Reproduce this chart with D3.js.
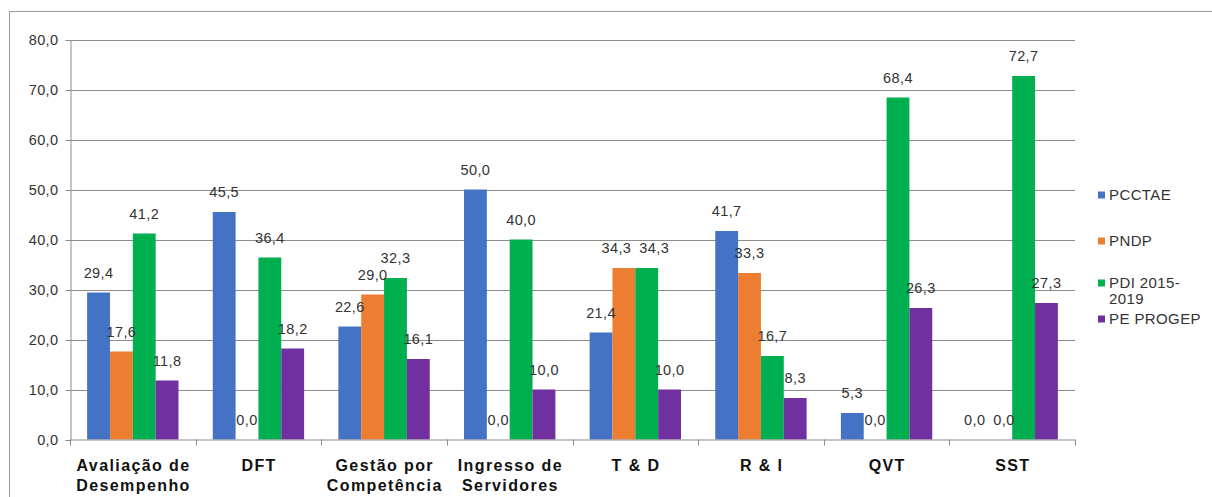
<!DOCTYPE html>
<html>
<head>
<meta charset="utf-8">
<script src="https://cdn.jsdelivr.net/npm/d3@7"></script>
<style>
  body { margin: 0; background: #fff; }
  text { font-family: "Liberation Sans", Arial, sans-serif; }
</style>
</head>
<body>
<svg id="chart" width="1212" height="497"></svg>
<script>
const categories = [
    ["Avaliação de", "Desempenho"],
    ["DFT"],
    ["Gestão por", "Competência"],
    ["Ingresso de", "Servidores"],
    ["T & D"],
    ["R & I"],
    ["QVT"],
    ["SST"]
];
const seriesNames = ["PCCTAE", "PNDP", "PDI 2015-2019", "PE PROGEP"];
const legendLines = [["PCCTAE"], ["PNDP"], ["PDI 2015-", "2019"], ["PE PROGEP"]];
const colors = ["#4472C4", "#ED7D31", "#00B050", "#7030A0"];
const pcctae = [29.4, 45.5, 22.6, 50.0, 21.4, 41.7, 5.3, 0.0];
const pndp = [17.6, 0.0, 29.0, 0.0, 34.3, 33.3, 0.0, 0.0];
const pdi = [41.2, 36.4, 32.3, 40.0, 34.3, 16.7, 68.4, 72.7];
const progep = [11.8, 18.2, 16.1, 10.0, 10.0, 8.3, 26.3, 27.3];
const yTicks = [0, 10, 20, 30, 40, 50, 60, 70, 80];

const series = [pcctae, pndp, pdi, progep];

const svg = d3.select("#chart"),
    plotLeft = 70, plotRight = 1075, plotTop = 39.5, plotBottom = 439.5;

// outer frame
svg.append("rect")
    .attr("x", 9.5).attr("y", 11.5)
    .attr("width", 1220).attr("height", 520)
    .attr("fill", "none").attr("stroke", "#9a9a9a");

const x = d3.scaleBand()
    .domain(d3.range(categories.length))
    .range([plotLeft, plotRight])
    .padding(0);

// Excel gap width ~150%
const bw = x.bandwidth() / 5.5;
const xs = d3.scaleBand()
    .domain(d3.range(series.length))
    .range([bw * 0.75, x.bandwidth() - bw * 0.75]);

const y = d3.scaleLinear().domain([0, 80]).range([plotBottom, plotTop]);

const fmt = v => v.toFixed(1).replace(".", ",");

// gridlines
svg.append("g").selectAll("line")
    .data(yTicks.filter(d => d > 0))
    .enter().append("line")
    .attr("x1", plotLeft).attr("x2", plotRight)
    .attr("y1", d => Math.round(y(d)) + 0.5).attr("y2", d => Math.round(y(d)) + 0.5)
    .attr("stroke", "#8c8c8c").attr("stroke-width", 1);

// y axis
const yAxis = svg.append("g")
    .attr("transform", `translate(${plotLeft + 0.5},0.5)`)
    .call(d3.axisLeft(y).tickValues(yTicks).tickSize(5).tickFormat(fmt));
yAxis.select(".domain").attr("stroke", "#8c8c8c");
yAxis.selectAll(".tick line").attr("stroke", "#8c8c8c");
yAxis.selectAll(".tick text")
    .attr("font-size", 14.5)
    .attr("letter-spacing", "0.4px")
    .attr("fill", "#333")
    .attr("x", -12)
    .attr("font-family", "Liberation Sans, Arial, sans-serif");

// bars
const groups = svg.append("g").selectAll("g")
    .data(categories)
    .enter().append("g")
    .attr("transform", (d, i) => `translate(${x(i)},0)`);

series.forEach((vals, s) => {
    groups.append("rect")
        .attr("x", (d, i) => xs(s))
        .attr("y", (d, i) => y(vals[i]))
        .attr("width", xs.bandwidth())
        .attr("height", (d, i) => y(0) - y(vals[i]))
        .attr("fill", colors[s]);
});

// x axis line + ticks at category boundaries
svg.append("line")
    .attr("x1", plotLeft).attr("x2", plotRight)
    .attr("y1", plotBottom + 0.5).attr("y2", plotBottom + 0.5)
    .attr("stroke", "#8c8c8c");
svg.append("g").selectAll("line")
    .data(d3.range(categories.length + 1))
    .enter().append("line")
    .attr("x1", i => Math.round(plotLeft + i * x.step()) + 0.5)
    .attr("x2", i => Math.round(plotLeft + i * x.step()) + 0.5)
    .attr("y1", plotBottom).attr("y2", plotBottom + 6)
    .attr("stroke", "#8c8c8c");

// data labels
groups.each(function(d, i) {
    const g = d3.select(this);
    const labels = series.map((vals, s) => g.append("text")
        .attr("x", xs(s) + xs.bandwidth() / 2)
        .attr("y", y(vals[i]) - 15)
        .attr("text-anchor", "middle")
        .attr("font-size", 14.5)
        .attr("letter-spacing", "0.4px")
        .attr("fill", "#333")
        .text(fmt(vals[i])));
    // push apart neighbours that sit on the same line
    for (let s = 0; s < labels.length - 1; s++) {
        const a = labels[s], b = labels[s + 1];
        const ya = +a.attr("y"), yb = +b.attr("y");
        if (Math.abs(ya - yb) > 13) continue;
        const wa = a.node().getComputedTextLength(),
            wb = b.node().getComputedTextLength();
        const need = (wa + wb) / 2 + 8,
            have = +b.attr("x") - +a.attr("x");
        if (have < need) {
            const k = (need - have) / 2;
            a.attr("x", +a.attr("x") - k);
            b.attr("x", +b.attr("x") + k);
        }
    }
});

// category labels
groups.append("text")
    .attr("text-anchor", "middle")
    .attr("font-size", 16)
    .attr("font-weight", "bold")
    .attr("letter-spacing", "1.4px")
    .attr("fill", "#111")
    .selectAll("tspan")
    .data(d => d)
    .enter().append("tspan")
    .attr("x", x.bandwidth() / 2 + 0.7)
    .attr("y", (d, j) => 471 + j * 20)
    .text(d => d);

// legend
const legendY = [195, 241, 283, 319];
const legend = svg.append("g").selectAll("g")
    .data(seriesNames)
    .enter().append("g")
    .attr("transform", (d, i) => `translate(1098,${legendY[i]})`);
legend.append("rect")
    .attr("x", 0).attr("y", -3.5)
    .attr("width", 7).attr("height", 7)
    .attr("fill", (d, i) => colors[i]);
legend.append("text")
    .attr("font-size", 15)
    .attr("letter-spacing", "0.4px")
    .attr("fill", "#333")
    .selectAll("tspan")
    .data((d, i) => legendLines[i])
    .enter().append("tspan")
    .attr("x", 11)
    .attr("y", (d, j) => 5 + j * 16)
    .text(d => d);
</script>
</body>
</html>
